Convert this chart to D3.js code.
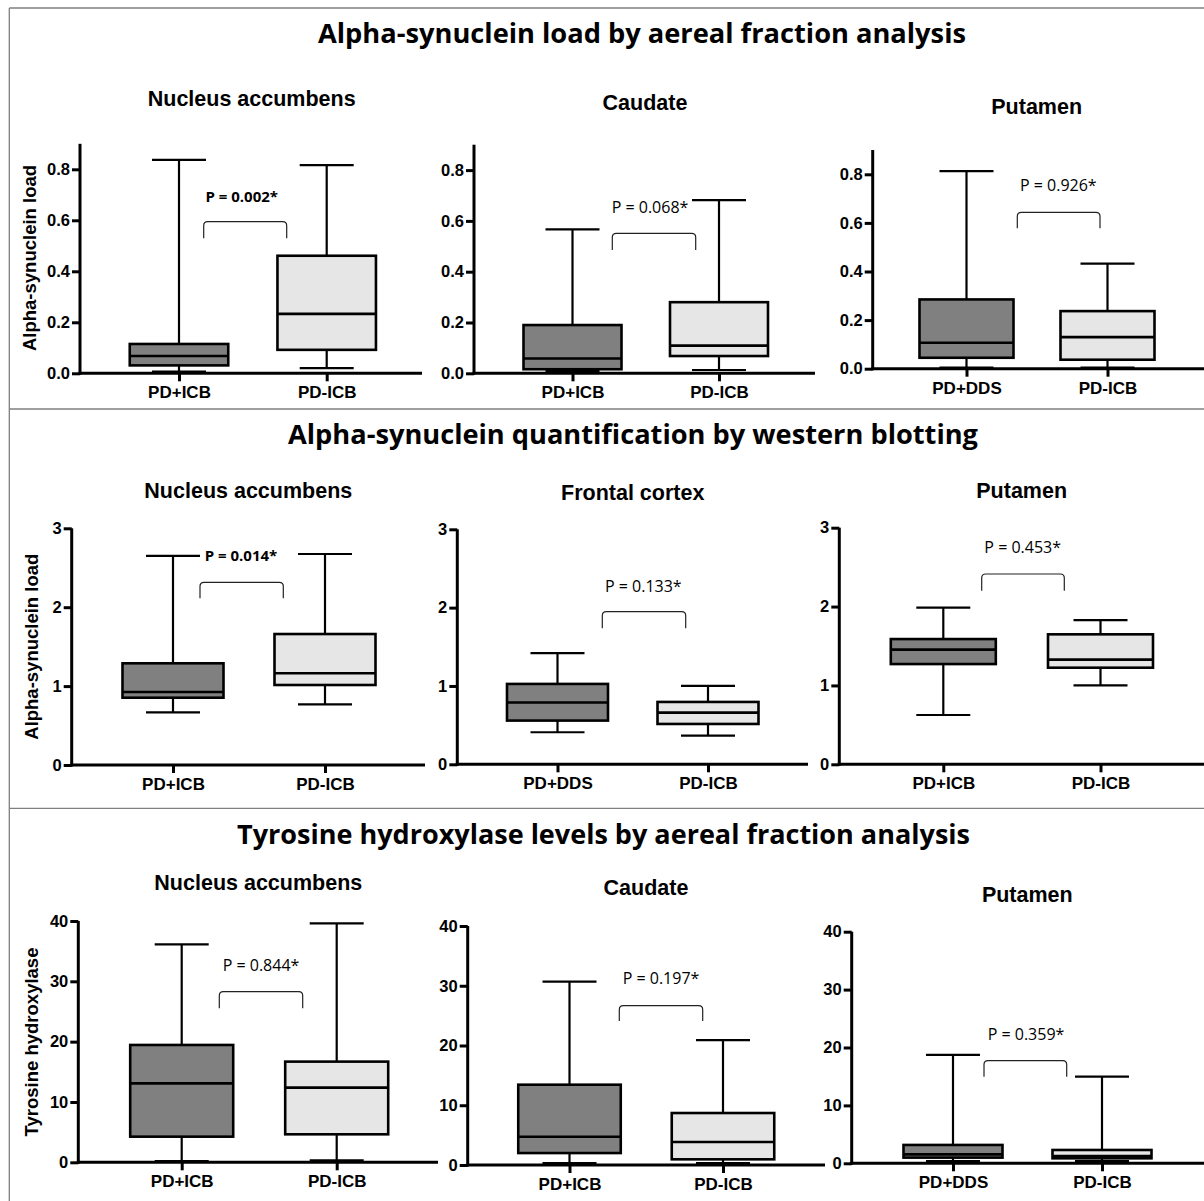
<!DOCTYPE html>
<html>
<head>
<meta charset="utf-8">
<script src="https://cdn.jsdelivr.net/npm/d3@7"></script>
<style>
  body { margin: 0; background: #fff; }
  svg { display: block; }
</style>
</head>
<body>
<div id="chart"></div>
<script>
// --- data ---
var sectionTitles = [
    "Alpha-synuclein load by aereal fraction analysis",
    "Alpha-synuclein quantification by western blotting",
    "Tyrosine hydroxylase levels by aereal fraction analysis"
];

var panelTitles = ["Nucleus accumbens", "Caudate", "Putamen",
                   "Nucleus accumbens", "Frontal cortex", "Putamen",
                   "Nucleus accumbens", "Caudate", "Putamen"];

var groupLabels = [
    ["PD+ICB", "PD-ICB"], ["PD+ICB", "PD-ICB"], ["PD+DDS", "PD-ICB"],
    ["PD+ICB", "PD-ICB"], ["PD+DDS", "PD-ICB"], ["PD+ICB", "PD-ICB"],
    ["PD+ICB", "PD-ICB"], ["PD+ICB", "PD-ICB"], ["PD+DDS", "PD-ICB"]
];

var pLabels = ["P = 0.002*", "P = 0.068*", "P = 0.926*",
               "P = 0.014*", "P = 0.133*", "P = 0.453*",
               "P = 0.844*", "P = 0.197*", "P = 0.359*"];

var yLabels = ["Alpha-synuclein load", "", "",
               "Alpha-synuclein load", "", "",
               "Tyrosine hydroxylase", "", ""];

// [min, q1, median, q3, max] for each group
var boxStats = [
    [[0.007, 0.031, 0.068, 0.115, 0.837], [0.020, 0.092, 0.233, 0.461, 0.816]],
    [[0.009, 0.016, 0.058, 0.190, 0.567], [0.013, 0.068, 0.109, 0.280, 0.682]],
    [[0.005, 0.045, 0.107, 0.285, 0.813], [0.005, 0.037, 0.130, 0.237, 0.432]],
    [[0.667, 0.853, 0.925, 1.289, 2.650], [0.769, 1.014, 1.162, 1.660, 2.674]],
    [[0.409, 0.558, 0.788, 1.026, 1.418], [0.366, 0.515, 0.660, 0.796, 1.000]],
    [[0.625, 1.271, 1.454, 1.588, 1.986], [1.001, 1.225, 1.327, 1.648, 1.829]],
    [[0.20, 4.25, 13.09, 19.45, 36.13], [0.33, 4.64, 12.38, 16.69, 39.60]],
    [[0.30, 2.00, 4.74, 13.44, 30.68], [0.30, 0.95, 3.85, 8.70, 20.90]],
    [[0.40, 0.98, 1.55, 3.17, 18.71], [0.40, 0.86, 1.27, 2.30, 14.97]]
];

var yMaxes = [0.9, 0.9, 0.9, 3, 3, 3, 40, 40, 40];
var yTicks = [
    [0, 0.2, 0.4, 0.6, 0.8], [0, 0.2, 0.4, 0.6, 0.8], [0, 0.2, 0.4, 0.6, 0.8],
    [0, 1, 2, 3], [0, 1, 2, 3], [0, 1, 2, 3],
    [0, 10, 20, 30, 40], [0, 10, 20, 30, 40], [0, 10, 20, 30, 40]
];

// --- page layout (pixels) ---
var svgWidth = 1204;
var svgHeight = 1201;

// x1, x2, baseline of each row heading
var sectionPos = [[318, 966, 42.7], [288, 978, 444.3], [237, 970, 844.3]];

// ax: y axis x, y0/yTop: pixel range, xEnd: end of x axis, c: box centres,
// bw: box width, br: bracket [x1, x2, top, bottom], pt: p text, tt: title, yl: y label
var layout = [
    {ax: 80, y0: 373.3, yTop: 143.8, xEnd: 422, c: [179, 326.7], bw: 98.5, br: [203.7, 286.7, 221.7, 238.3], pt: [241.7, 201.7], tt: [251.7, 106], yl: [36, 258], bold: true},
    {ax: 474, y0: 373.3, yTop: 144.7, xEnd: 815, c: [572.5, 719], bw: 98, br: [612.3, 695.7, 233.3, 250], pt: [650, 212.7], tt: [645, 110]},
    {ax: 872.7, y0: 368.7, yTop: 150, xEnd: 1204, c: [966.5, 1107.5], bw: 94, br: [1017.3, 1100, 212.3, 228.3], pt: [1058.3, 191], tt: [1036.7, 114.3]},
    {ax: 71.7, y0: 765, yTop: 528.3, xEnd: 425, c: [173, 325], bw: 101, br: [200, 283.3, 582.3, 598.3], pt: [241, 561], tt: [248.3, 498.3], yl: [38, 646.7], bold: true},
    {ax: 457.3, y0: 764.3, yTop: 529.3, xEnd: 808, c: [557.5, 708], bw: 101, br: [602.3, 685.7, 611.7, 628.3], pt: [643.3, 591.5], tt: [632.7, 500]},
    {ax: 839.3, y0: 764.3, yTop: 527.7, xEnd: 1204, c: [943.3, 1100.5], bw: 105, br: [981.7, 1064.3, 574, 590.7], pt: [1022.7, 552.7], tt: [1021.7, 498.3]},
    {ax: 78.3, y0: 1162.3, yTop: 921, xEnd: 438, c: [181.7, 336.7], bw: 103, br: [219.3, 302.7, 991.7, 1008.3], pt: [261, 971], tt: [258.3, 890], yl: [37.5, 1042]},
    {ax: 467.7, y0: 1165, yTop: 926, xEnd: 825, c: [569.5, 723], bw: 102.5, br: [619.3, 702.7, 1005.7, 1021], pt: [661, 984], tt: [646, 895]},
    {ax: 851.7, y0: 1163.3, yTop: 931.7, xEnd: 1204, c: [953, 1102], bw: 99, br: [984, 1066.7, 1060.7, 1076.7], pt: [1026, 1040], tt: [1027.3, 901.7]}
];

var fills = ["#808080", "#e6e6e6"];
var arial = "'Liberation Sans', Arial, sans-serif";
var calibri = "'Open Sans', Calibri, sans-serif";

var svg = d3.select("#chart")
    .append("svg")
    .attr("width", svgWidth)
    .attr("height", svgHeight);

// grey frame lines
var frame = svg.append("g")
    .attr("stroke", "#7f7f7f")
    .attr("stroke-width", 1.3);
frame.append("line").attr("x1", 9.3).attr("x2", svgWidth).attr("y1", 8).attr("y2", 8);
frame.append("line").attr("x1", 9.3).attr("x2", 9.3).attr("y1", 8).attr("y2", svgHeight);
frame.append("line").attr("x1", 9.3).attr("x2", svgWidth).attr("y1", 409).attr("y2", 409);
frame.append("line").attr("x1", 9.3).attr("x2", svgWidth).attr("y1", 808.3).attr("y2", 808.3);

// row headings
svg.selectAll("text.section")
    .data(sectionTitles)
    .enter()
    .append("text")
    .attr("class", "section")
    .attr("x", (d, i) => sectionPos[i][0])
    .attr("y", (d, i) => sectionPos[i][2])
    .attr("textLength", (d, i) => sectionPos[i][1] - sectionPos[i][0])
    .attr("lengthAdjust", "spacingAndGlyphs")
    .attr("font-family", calibri)
    .attr("font-weight", "bold")
    .attr("font-size", "26px")
    .attr("fill", "#000")
    .text(d => d);

panelTitles.forEach(function(title, i) {
    var L = layout[i];
    var g = svg.append("g");

    var yScale = d3.scaleLinear()
        .domain([0, yMaxes[i]])
        .range([L.y0, L.yTop]);

    var xScale = d3.scalePoint()
        .domain(groupLabels[i])
        .range(L.c);

    // panel title
    g.append("text")
        .attr("x", L.tt[0])
        .attr("y", L.tt[1])
        .attr("text-anchor", "middle")
        .attr("font-family", arial)
        .attr("font-weight", "bold")
        .attr("font-size", "21.5px")
        .text(title);

    // y axis
    var yAxis = d3.axisLeft(yScale)
        .tickValues(yTicks[i])
        .tickFormat(yMaxes[i] < 1 ? d3.format(".1f") : d3.format("d"))
        .tickSize(8)
        .tickSizeOuter(0)
        .tickPadding(2);

    var yG = g.append("g")
        .attr("transform", `translate(${L.ax},0)`)
        .call(yAxis);
    yG.select(".domain").attr("stroke", "#000").attr("stroke-width", 3)
        .attr("d", `M0,${L.y0 + 1.5}V${L.yTop}`);
    yG.selectAll(".tick line").attr("stroke", "#000").attr("stroke-width", 3);
    yG.selectAll(".tick text")
        .attr("font-family", arial)
        .attr("font-weight", "bold")
        .attr("font-size", "16.5px")
        .attr("fill", "#000");

    // x axis
    var xAxis = d3.axisBottom(xScale)
        .tickSize(8)
        .tickSizeOuter(0)
        .tickPadding(5);

    var xG = g.append("g")
        .attr("transform", `translate(0,${L.y0})`)
        .call(xAxis);
    xG.select(".domain").attr("stroke", "#000").attr("stroke-width", 3)
        .attr("d", `M${L.ax - 1.5},0H${L.xEnd}`);
    xG.selectAll(".tick line").attr("stroke", "#000").attr("stroke-width", 3);
    xG.selectAll(".tick text")
        .attr("font-family", arial)
        .attr("font-weight", "bold")
        .attr("font-size", "17px")
        .attr("fill", "#000");

    // y label
    if (yLabels[i]) {
        g.append("text")
            .attr("transform", `translate(${L.yl[0]},${L.yl[1]}) rotate(-90)`)
            .attr("text-anchor", "middle")
            .attr("font-family", arial)
            .attr("font-weight", "bold")
            .attr("font-size", "18.5px")
            .text(yLabels[i]);
    }

    // boxes
    var capW = 54;
    var boxes = g.selectAll("g.box")
        .data(boxStats[i])
        .enter()
        .append("g")
        .attr("class", "box");

    // whiskers
    boxes.append("line")
        .attr("x1", (d, j) => xScale(groupLabels[i][j]))
        .attr("x2", (d, j) => xScale(groupLabels[i][j]))
        .attr("y1", d => yScale(d[0]))
        .attr("y2", d => yScale(d[4]))
        .attr("stroke", "#000")
        .attr("stroke-width", 2.2);
    boxes.append("line")
        .attr("x1", (d, j) => xScale(groupLabels[i][j]) - capW / 2)
        .attr("x2", (d, j) => xScale(groupLabels[i][j]) + capW / 2)
        .attr("y1", d => yScale(d[4]))
        .attr("y2", d => yScale(d[4]))
        .attr("stroke", "#000")
        .attr("stroke-width", 2.2);
    boxes.append("line")
        .attr("x1", (d, j) => xScale(groupLabels[i][j]) - capW / 2)
        .attr("x2", (d, j) => xScale(groupLabels[i][j]) + capW / 2)
        .attr("y1", d => yScale(d[0]))
        .attr("y2", d => yScale(d[0]))
        .attr("stroke", "#000")
        .attr("stroke-width", 2.2);

    // box body
    boxes.append("rect")
        .attr("x", (d, j) => xScale(groupLabels[i][j]) - L.bw / 2)
        .attr("width", L.bw)
        .attr("y", d => yScale(d[3]))
        .attr("height", d => yScale(d[1]) - yScale(d[3]))
        .attr("fill", (d, j) => fills[j])
        .attr("stroke", "#000")
        .attr("stroke-width", 2.6);

    // median
    boxes.append("line")
        .attr("x1", (d, j) => xScale(groupLabels[i][j]) - L.bw / 2)
        .attr("x2", (d, j) => xScale(groupLabels[i][j]) + L.bw / 2)
        .attr("y1", d => yScale(d[2]))
        .attr("y2", d => yScale(d[2]))
        .attr("stroke", "#000")
        .attr("stroke-width", 2.6);

    // significance bracket
    var b = L.br, r = 4;
    g.append("path")
        .attr("d", `M${b[0]},${b[3]}V${b[2] + r}Q${b[0]},${b[2]} ${b[0] + r},${b[2]}` +
                   `H${b[1] - r}Q${b[1]},${b[2]} ${b[1]},${b[2] + r}V${b[3]}`)
        .attr("fill", "none")
        .attr("stroke", "#222")
        .attr("stroke-width", 1.2);

    g.append("text")
        .attr("x", L.pt[0])
        .attr("y", L.pt[1])
        .attr("text-anchor", "middle")
        .attr("font-family", calibri)
        .attr("font-weight", L.bold ? "bold" : "normal")
        .attr("font-size", L.bold ? "15px" : "16px")
        .attr("fill", "#000")
        .text(pLabels[i]);
});
</script>
</body>
</html>
